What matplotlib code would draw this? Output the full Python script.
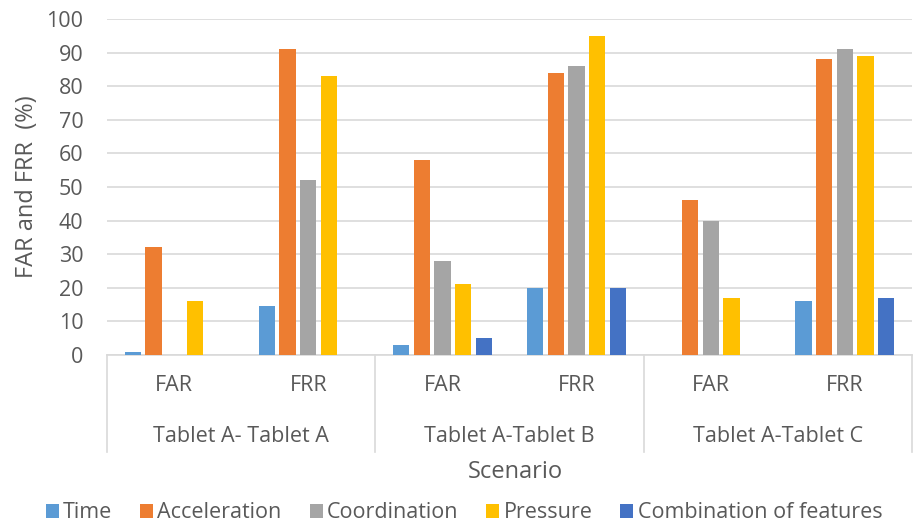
import matplotlib.pyplot as plt
import numpy as np

plt.rcParams['font.family'] = ['Open Sans', 'DejaVu Sans']

sub_labels = ['FAR', 'FRR', 'FAR', 'FRR', 'FAR', 'FRR']
scenarios = ['Tablet A- Tablet A', 'Tablet A-Tablet B', 'Tablet A-Tablet C']
series_names = ['Time', 'Acceleration', 'Coordination', 'Pressure', 'Combination of features']

time_vals = [1, 14.5, 3, 20, 0, 16]
accel_vals = [32, 91, 58, 84, 46, 88]
coord_vals = [0, 52, 28, 86, 40, 91]
press_vals = [16, 83, 21, 95, 17, 89]
comb_vals = [0, 0, 5, 20, 0, 17]

colors = ['#5B9BD5', '#ED7D31', '#A5A5A5', '#FFC000', '#4472C4']
txt = '#595959'
grid = '#D9D9D9'

fig = plt.figure(figsize=(9.13, 5.28), dpi=100)
ax = fig.add_axes([107 / 913, 1 - 355 / 528, 805 / 913, 336 / 528])

x = np.arange(len(sub_labels))
pitch = 0.154
width = 0.122
all_vals = [time_vals, accel_vals, coord_vals, press_vals, comb_vals]
for i, (name, vals) in enumerate(zip(series_names, all_vals)):
    ax.bar(x + (i - 2) * pitch, vals, width, color=colors[i], label=name, zorder=3)

ax.set_xlim(-0.5, 5.5)
ax.set_ylim(0, 100)
ax.set_yticks(range(0, 101, 10))
ax.yaxis.grid(True, color=grid, linewidth=1.2, zorder=0)
ax.tick_params(axis='y', length=0, pad=17, labelsize=15.5, labelcolor=txt)
ax.set_xticks([])
for s in ['left', 'right', 'top']:
    ax.spines[s].set_visible(False)
ax.spines['bottom'].set_color(grid)
ax.spines['bottom'].set_linewidth(1.2)

# multi-level category axis
trans = ax.get_xaxis_transform()
for xs in [-0.5, 1.5, 3.5, 5.5]:
    ax.plot([xs, xs], [0, -0.288], transform=trans, color=grid, lw=1.2, clip_on=False)
for xi, lab in zip(x, sub_labels):
    ax.text(xi, -0.092, lab, transform=trans, ha='center', va='center', fontsize=15.5, color=txt)
for j, lab in enumerate(scenarios):
    ax.text(2 * j + 0.5, -0.244, lab, transform=trans, ha='center', va='center', fontsize=15.5, color=txt)

ax.set_ylabel('FAR and FRR  (%)', fontsize=17, color=txt, labelpad=5)
fig.text(515 / 913, 1 - 472 / 528, 'Scenario', ha='center', va='center', fontsize=17, color=txt)

fig.legend(loc='center', bbox_to_anchor=(464 / 913, 1 - 513 / 528), ncol=5, frameon=False,
           fontsize=15.5, handlelength=0.6, handleheight=0.6, handletextpad=0.2,
           columnspacing=1.3, labelcolor=txt)

fig.savefig('out.png', dpi=100)
